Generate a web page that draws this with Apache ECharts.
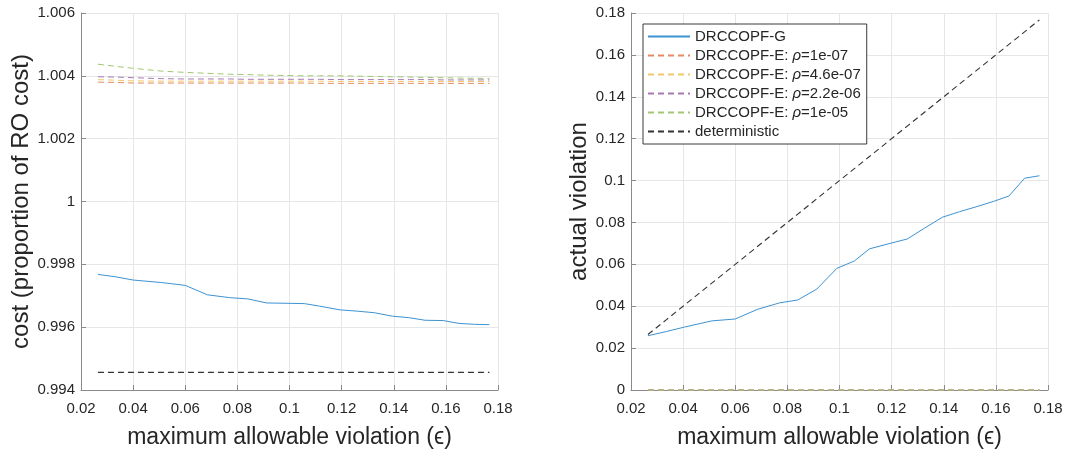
<!DOCTYPE html>
<html>
<head>
<meta charset="utf-8">
<script src="https://cdn.jsdelivr.net/npm/echarts@6/dist/echarts.min.js"></script>
<style>
  html, body { margin: 0; padding: 0; background: #fff; }
  #chart { width: 1065px; height: 449px; }
</style>
</head>
<body>
<div id="chart"></div>
<script>
// maximum allowable violation (epsilon)
const epsilon = [0.0265, 0.0335, 0.040, 0.051, 0.060, 0.0685, 0.077, 0.084, 0.0913, 0.099, 0.1057,
  0.1115, 0.1194, 0.126, 0.1325, 0.1395, 0.146, 0.152, 0.159, 0.165, 0.171, 0.1767];

const seriesNames = ['DRCCOPF-G', 'DRCCOPF-E: ρ=1e-07', 'DRCCOPF-E: ρ=4.6e-07',
  'DRCCOPF-E: ρ=2.2e-06', 'DRCCOPF-E: ρ=1e-05', 'deterministic'];

// left plot: cost (proportion of RO cost)
const costG = [0.99768, 0.99760, 0.99750, 0.99742, 0.99733, 0.99703, 0.99694, 0.99690, 0.99677, 0.99676, 0.99675,
  0.99667, 0.99655, 0.99651, 0.99646, 0.99635, 0.99630, 0.99622, 0.99621, 0.99612, 0.99609, 0.99608];
const costE1 = [1.00380, 1.00379, 1.00377, 1.00377, 1.00377, 1.00377, 1.00377, 1.00377, 1.00377, 1.00377, 1.00377,
  1.00376, 1.00376, 1.00376, 1.00376, 1.00376, 1.00376, 1.00376, 1.00376, 1.00376, 1.00376, 1.00376];
const costE2 = [1.00388, 1.00386, 1.00384, 1.00383, 1.00383, 1.00383, 1.00383, 1.00383, 1.00383, 1.00383, 1.00383,
  1.00383, 1.00382, 1.00382, 1.00382, 1.00382, 1.00382, 1.00382, 1.00382, 1.00382, 1.00382, 1.00382];
const costE3 = [1.00397, 1.00396, 1.00394, 1.00391, 1.00390, 1.00390, 1.00390, 1.00389, 1.00389, 1.00389, 1.00389,
  1.00389, 1.00388, 1.00388, 1.00388, 1.00388, 1.00388, 1.00388, 1.00387, 1.00387, 1.00387, 1.00387];
const costE4 = [1.00437, 1.00430, 1.00424, 1.00415, 1.00411, 1.00408, 1.00405, 1.00404, 1.00402, 1.00401, 1.00400,
  1.00400, 1.00400, 1.00399, 1.00398, 1.00397, 1.00396, 1.00395, 1.00394, 1.00393, 1.00392, 1.00392];
const costDet = [0.99456, 0.99456, 0.99456, 0.99456, 0.99456, 0.99456, 0.99456, 0.99456, 0.99456, 0.99456, 0.99456,
  0.99456, 0.99456, 0.99456, 0.99456, 0.99456, 0.99456, 0.99456, 0.99456, 0.99456, 0.99456, 0.99456];

// right plot: actual violation
const violG = [0.0259, 0.0279, 0.0299, 0.0330, 0.0339, 0.0385, 0.0416, 0.0430, 0.0482, 0.0581, 0.0616,
  0.0674, 0.0700, 0.0721, 0.0772, 0.0825, 0.0851, 0.0873, 0.0900, 0.0926, 0.1011, 0.1023];
const violE = [0, 0, 0, 0, 0, 0, 0, 0, 0, 0, 0, 0, 0, 0, 0, 0, 0, 0, 0, 0, 0, 0];
const violDet = [0.0265, 0.0335, 0.040, 0.051, 0.060, 0.0685, 0.077, 0.084, 0.0913, 0.099, 0.1057,
  0.1115, 0.1194, 0.126, 0.1325, 0.1395, 0.146, 0.152, 0.159, 0.165, 0.171, 0.1767];

// MATLAB default palette, a bit faded as in the picture
const colors = ['#3d93d2', '#e58a62', '#f2c86a', '#a878b2', '#a2c872', '#333333'];

const FONT = 'Liberation Sans, Arial, Helvetica, sans-serif';
const TXT = '#262626';
const AXIS = '#8a8a8a';

function pairs(xs, ys) {
  return xs.map((x, i) => [x, ys[i]]);
}

function lineSeries(idx, ys, gridIdx) {
  return {
    name: seriesNames[idx],
    type: 'line',
    xAxisIndex: gridIdx,
    yAxisIndex: gridIdx,
    showSymbol: false,
    symbol: 'none',
    clip: false,
    z: 3,
    data: pairs(epsilon, ys),
    lineStyle: {
      color: colors[idx],
      width: idx === 5 ? 1.1 : 1,
      type: idx === 0 ? 'solid' : [6, 4]
    },
    itemStyle: { color: colors[idx] }
  };
}

function xAxisCfg(gridIdx) {
  return {
    type: 'value',
    gridIndex: gridIdx,
    min: 0.02,
    max: 0.18,
    interval: 0.02,
    name: 'maximum allowable violation (ϵ)',
    nameLocation: 'middle',
    nameGap: 36,
    nameTextStyle: { fontFamily: FONT, fontSize: 23, color: TXT },
    axisLine: { show: true, lineStyle: { color: AXIS, width: 1 } },
    axisTick: { show: true, inside: true, length: 5, lineStyle: { color: AXIS } },
    axisLabel: {
      fontFamily: FONT, fontSize: 15, color: TXT, margin: 11,
      formatter: v => String(parseFloat(v.toFixed(2)))
    },
    splitLine: { show: true, lineStyle: { color: '#e6e6e6', width: 1 } }
  };
}

function yAxisCfg(gridIdx, name, min, max, interval, digits, gap) {
  return {
    type: 'value',
    gridIndex: gridIdx,
    min: min,
    max: max,
    interval: interval,
    name: name,
    nameLocation: 'middle',
    nameGap: gap,
    nameTextStyle: { fontFamily: FONT, fontSize: 24, color: TXT },
    axisLine: { show: true, lineStyle: { color: AXIS, width: 1 } },
    axisTick: { show: true, inside: true, length: 5, lineStyle: { color: AXIS } },
    axisLabel: {
      fontFamily: FONT, fontSize: 15, color: TXT, margin: 6,
      formatter: v => String(parseFloat(v.toFixed(digits)))
    },
    splitLine: { show: true, lineStyle: { color: '#e6e6e6', width: 1 } }
  };
}

const chart = echarts.init(document.getElementById('chart'), null, { renderer: 'canvas' });

const series = [];
[costG, costE1, costE2, costE3, costE4, costDet].forEach((ys, i) => series.push(lineSeries(i, ys, 0)));
[violG, violE, violE, violE, violE, violDet].forEach((ys, i) => series.push(lineSeries(i, ys, 1)));

const option = {
  backgroundColor: '#fff',
  animation: false,
  grid: [
    { left: 81, top: 13, width: 417, height: 377, containLabel: false, outerBoundsMode: 'none' },
    { left: 631, top: 13, width: 417, height: 377, containLabel: false, outerBoundsMode: 'none' }
  ],
  legend: {
    data: seriesNames,
    orient: 'vertical',
    left: 643,
    top: 24,
    z: 10,
    itemWidth: 42,
    itemHeight: 10,
    itemGap: 4,
    padding: [5, 6, 5, 4],
    backgroundColor: '#fff',
    borderColor: '#3a3a3a',
    borderWidth: 1,
    borderRadius: 0,
    selectedMode: false,
    itemStyle: { opacity: 0 },
    formatter: name => name.replace('ρ', '{i|ρ}'),
    textStyle: {
      fontFamily: FONT, fontSize: 15, color: TXT,
      rich: { i: { fontFamily: FONT, fontSize: 15, fontStyle: 'italic', color: TXT } }
    }
  },
  xAxis: [xAxisCfg(0), xAxisCfg(1)],
  yAxis: [
    yAxisCfg(0, 'cost (proportion of RO cost)', 0.994, 1.006, 0.002, 3, 46),
    yAxisCfg(1, 'actual violation', 0, 0.18, 0.02, 2, 40)
  ],
  series: series
};

chart.setOption(option);
</script>
</body>
</html>
